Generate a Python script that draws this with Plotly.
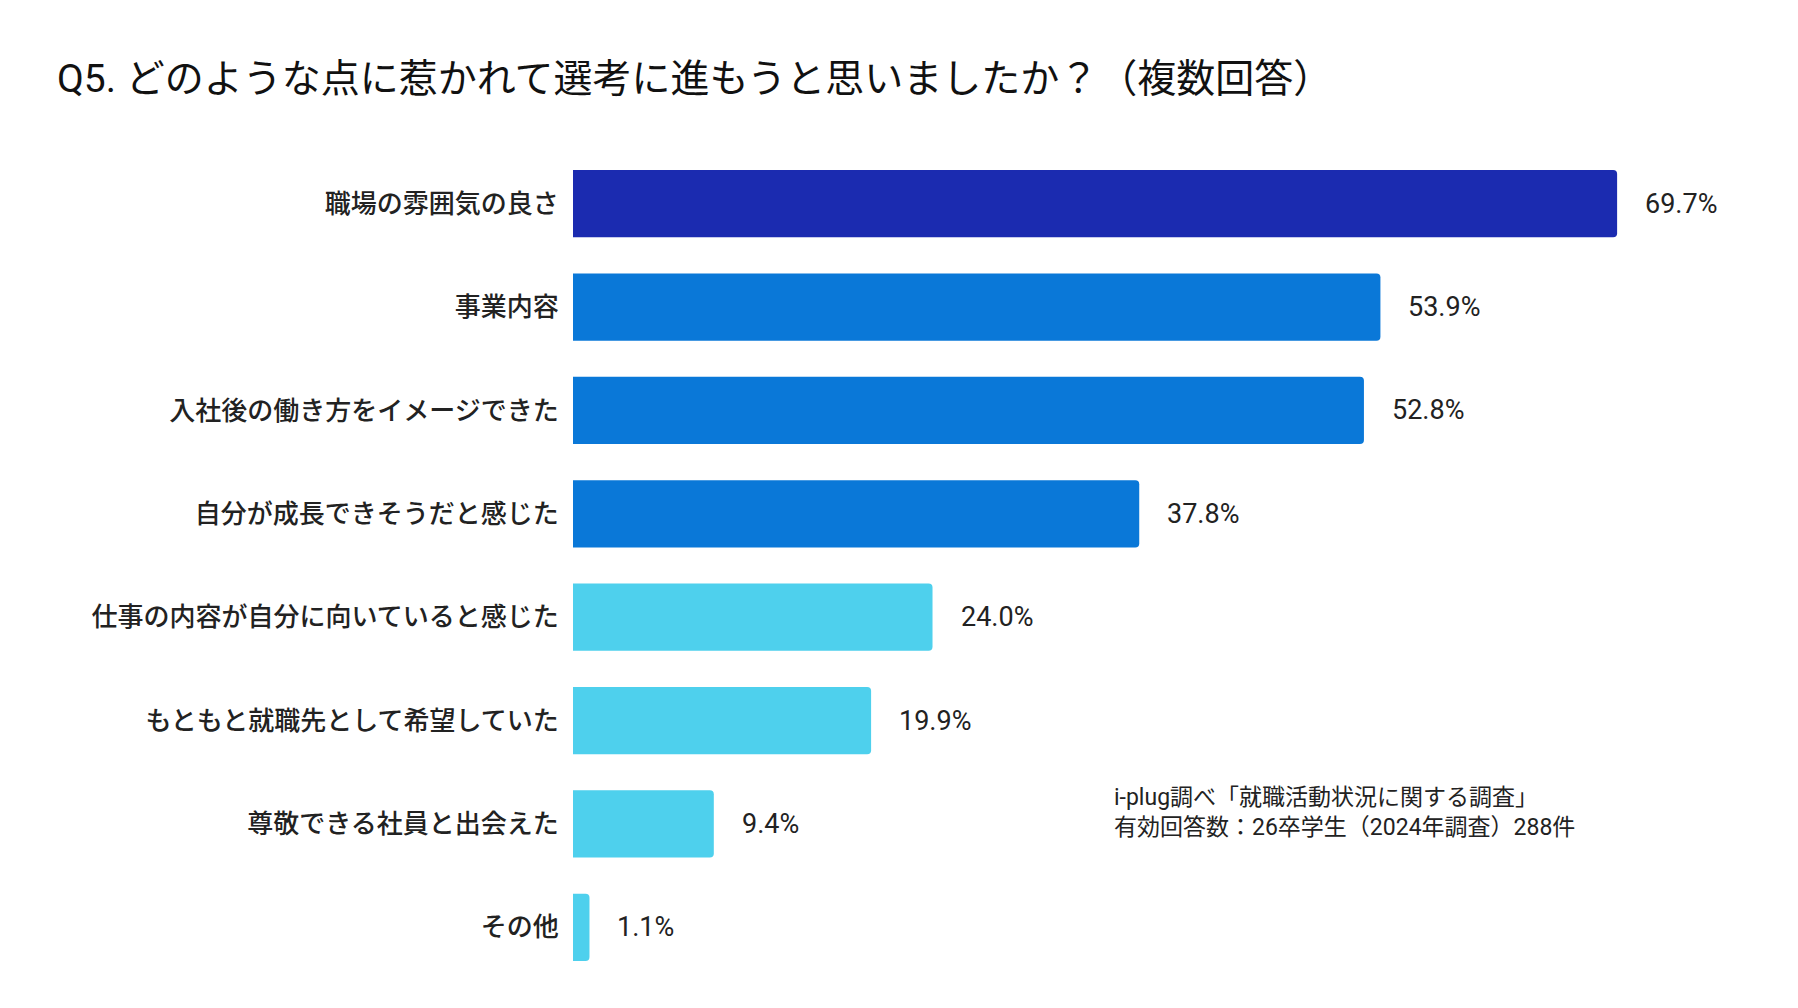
import plotly.graph_objects as go

categories = [
    "職場の雰囲気の良さ",
    "事業内容",
    "入社後の働き方をイメージできた",
    "自分が成長できそうだと感じた",
    "仕事の内容が自分に向いていると感じた",
    "もともと就職先として希望していた",
    "尊敬できる社員と出会えた",
    "その他",
]
values = [69.7, 53.9, 52.8, 37.8, 24.0, 19.9, 9.4, 1.1]
bar_colors = ["#1b2bb0", "#0a78d8", "#0a78d8", "#0a78d8",
              "#4ed0ed", "#4ed0ed", "#4ed0ed", "#4ed0ed"]
value_labels = [f"{v:.1f}%" for v in values]

title_text = "Q5. どのような点に惹かれて選考に進もうと思いましたか？（複数回答）"
source_text = "i-plug調べ「就職活動状況に関する調査」<br>有効回答数：26卒学生（2024年調査）288件"

FONT = "Roboto, 'Noto Sans CJK JP', sans-serif"

OFF = 8  # page body margin
W, H = 1798 - OFF, 1008 - OFF
PL, PR, PT, PB = 573, 1738, 152, 979  # plot box in window coords

fig = go.Figure()
fig.add_trace(go.Bar(
    x=values,
    y=categories,
    orientation="h",
    marker=dict(color=bar_colors, line=dict(width=0)),
    hoverinfo="skip",
))

for c, v, t in zip(categories, values, value_labels):
    fig.add_annotation(
        x=v, y=c, text=t, showarrow=False,
        xanchor="left", yanchor="middle", xshift=26,
        font=dict(family=FONT, size=27, color="#222222"),
    )

fig.add_annotation(
    xref="paper", yref="paper", x=(1112 - PL) / (PR - PL), y=1 - (812 - PT) / (PB - PT),
    text=source_text, showarrow=False, align="left",
    xanchor="left", yanchor="middle",
    font=dict(family=FONT, size=23, color="#222222"),
)

fig.update_layout(
    width=W, height=H,
    paper_bgcolor="white", plot_bgcolor="white",
    margin=dict(l=PL - OFF, r=1798 - PR, t=PT - OFF, b=1008 - PB),
    bargap=0.35,
    barcornerradius=4,
    showlegend=False,
    title=dict(
        text=title_text, x=(57 - OFF) / W, xanchor="left", xref="container",
        y=1 - (78 - OFF) / H, yanchor="middle", yref="container",
        font=dict(family=FONT, size=39, color="#111111"),
    ),
    xaxis=dict(range=[0, (PR - PL) / 14.98], visible=False, fixedrange=True),
    yaxis=dict(
        autorange="reversed", showgrid=False, zeroline=False, showline=False,
        ticks="outside", ticklen=8, tickcolor="rgba(0,0,0,0)",
        tickfont=dict(family=FONT, size=26, color="#222222", weight=500),
    ),
)

fig.write_html("out.html")
